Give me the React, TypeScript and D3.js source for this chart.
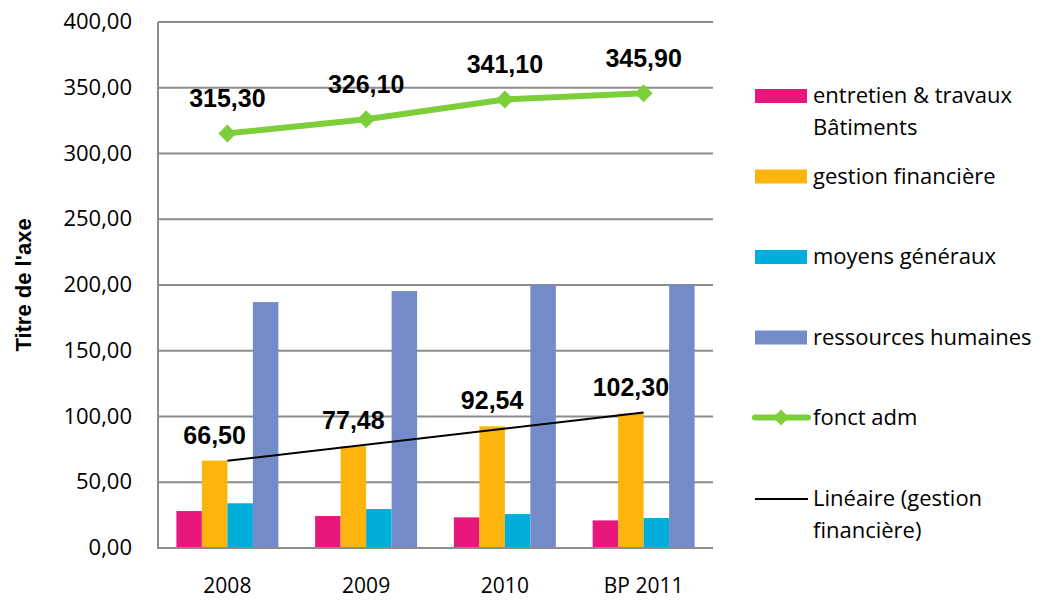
import React from "react";
import * as d3 from "d3";

const categories = ["2008", "2009", "2010", "BP 2011"];
const seriesNames = ["entretien & travaux Bâtiments", "gestion financière", "moyens généraux", "ressources humaines"];
const entretien = [28.1, 24.3, 23.3, 21.0];
const gestion = [66.5, 77.48, 92.54, 102.3];
const moyens = [34.0, 29.6, 25.8, 22.8];
const ressources = [187.0, 195.4, 200.0, 200.0];
const fonctAdm = [315.3, 326.1, 341.1, 345.9];
const gestionLabels = ["66,50", "77,48", "92,54", "102,30"];
const fonctLabels = ["315,30", "326,10", "341,10", "345,90"];
const yTicks = [0, 50, 100, 150, 200, 250, 300, 350, 400];
const colors = ["#E8177C", "#FDB50D", "#00AEDB", "#738BC8"];
const green = "#7DCF3A";

const W = 1044, H = 600;
const left = 158, right = 713, top = 22, bottom = 548;
const sans = "'Open Sans', Lato, sans-serif";
const bold = "'Liberation Sans', Arial, sans-serif";

export default function App() {
  const x = d3.scaleBand<string>().domain(categories).range([left, right]).paddingInner(0.265).paddingOuter(0.1325);
  const inner = d3.scaleBand<string>().domain(seriesNames).range([0, x.bandwidth()]);
  const y = d3.scaleLinear().domain([0, 400]).range([bottom, top]);
  const series = [entretien, gestion, moyens, ressources];
  const cx = (c: string) => (x(c) as number) + x.bandwidth() / 2;

  // linear trend of gestion financière
  const n = gestion.length;
  const xs = gestion.map((_, i) => i);
  const mx = d3.mean(xs) as number, my = d3.mean(gestion) as number;
  const slope = d3.sum(xs.map((xi, i) => (xi - mx) * (gestion[i] - my))) / d3.sum(xs.map((xi) => (xi - mx) ** 2));
  const icpt = my - slope * mx;
  const trend = [0, n - 1].map((i) => [cx(categories[i]), y(icpt + slope * i)] as [number, number]);

  const line = d3.line<number>().x((_, i) => cx(categories[i])).y((d) => y(d));
  const diamond = (px: number, py: number, r: number) => `M${px},${py - r}L${px + r},${py}L${px},${py + r}L${px - r},${py}Z`;

  const legendItems = [
    { type: "rect", color: colors[0], lines: ["entretien & travaux", "Bâtiments"], cy: 96 },
    { type: "rect", color: colors[1], lines: ["gestion financière"], cy: 176.5 },
    { type: "rect", color: colors[2], lines: ["moyens généraux"], cy: 257 },
    { type: "rect", color: colors[3], lines: ["ressources humaines"], cy: 337.5 },
    { type: "green", color: green, lines: ["fonct adm"], cy: 417.5 },
    { type: "black", color: "#000", lines: ["Linéaire (gestion", "financière)"], cy: 499 },
  ];

  return (
    <svg width={W} height={H} style={{ position: "absolute", left: 0, top: 0, background: "#fff", fontVariantLigatures: "none" }}>
      {/* gridlines */}
      {yTicks.filter((t) => t > 0).map((t) => (
        <line key={t} x1={left} x2={right} y1={y(t)} y2={y(t)} stroke="#8C8C8C" strokeWidth={2} />
      ))}
      {/* tick labels */}
      {yTicks.map((t) => (
        <text key={t} x={132} y={y(t) + 7} textAnchor="end" fontFamily={sans} fontSize={22} fill="#000">
          {t.toFixed(2).replace(".", ",")}
        </text>
      ))}
      {/* bars */}
      {categories.map((c, ci) => (
        <g key={c}>
          {series.map((s, si) => (
            <rect key={si} x={(x(c) as number) + (inner(seriesNames[si]) as number)} width={inner.bandwidth()}
              y={y(s[ci])} height={bottom - y(s[ci])} fill={colors[si]} />
          ))}
        </g>
      ))}
      {/* axes */}
      <line x1={left} x2={left} y1={top} y2={bottom} stroke="#8C8C8C" strokeWidth={2} />
      <line x1={left - 1} x2={right} y1={bottom} y2={bottom} stroke="#8C8C8C" strokeWidth={2} />
      {/* trend line */}
      <line x1={trend[0][0]} y1={trend[0][1]} x2={trend[1][0]} y2={trend[1][1]} stroke="#000" strokeWidth={2} />
      {/* fonct adm line */}
      <path d={line(fonctAdm) as string} fill="none" stroke={green} strokeWidth={6} strokeLinejoin="round" />
      {fonctAdm.map((v, i) => (
        <path key={i} d={diamond(cx(categories[i]), y(v), 9)} fill={green} />
      ))}
      {/* data labels */}
      {gestion.map((v, i) => (
        <text key={i} x={(x(categories[i]) as number) + (inner(seriesNames[1]) as number) + inner.bandwidth() / 2}
          y={y(v) - 17} textAnchor="middle" fontFamily={bold} fontWeight="bold" fontSize={25} fill="#000">
          {gestionLabels[i]}
        </text>
      ))}
      {fonctAdm.map((v, i) => (
        <text key={i} x={cx(categories[i])} y={y(v) - 26} textAnchor="middle" fontFamily={bold} fontWeight="bold" fontSize={25} fill="#000">
          {fonctLabels[i]}
        </text>
      ))}
      {/* x labels */}
      {categories.map((c) => (
        <text key={c} x={cx(c)} y={593} textAnchor="middle" fontFamily={sans} fontSize={21} fill="#000">{c}</text>
      ))}
      {/* y title */}
      <text transform="translate(31,285) rotate(-90)" textAnchor="middle" fontFamily={bold} fontWeight="bold" fontSize={22} fill="#000">
        Titre de l'axe
      </text>
      {/* legend */}
      {legendItems.map((it, i) => (
        <g key={i}>
          {it.type === "rect" && <rect x={755} y={it.cy - 7} width={52} height={14} fill={it.color} />}
          {it.type === "green" && (
            <g>
              <line x1={755} x2={808} y1={it.cy} y2={it.cy} stroke={green} strokeWidth={6} strokeLinecap="round" />
              <path d={diamond(781, it.cy, 8)} fill={green} />
            </g>
          )}
          {it.type === "black" && <line x1={755} x2={808} y1={it.cy} y2={it.cy} stroke="#000" strokeWidth={2} />}
          {it.lines.map((l, li) => (
            <text key={li} x={813} y={it.cy + 7 + li * 32} fontFamily={sans} fontSize={22} fill="#000">{l}</text>
          ))}
        </g>
      ))}
    </svg>
  );
}
